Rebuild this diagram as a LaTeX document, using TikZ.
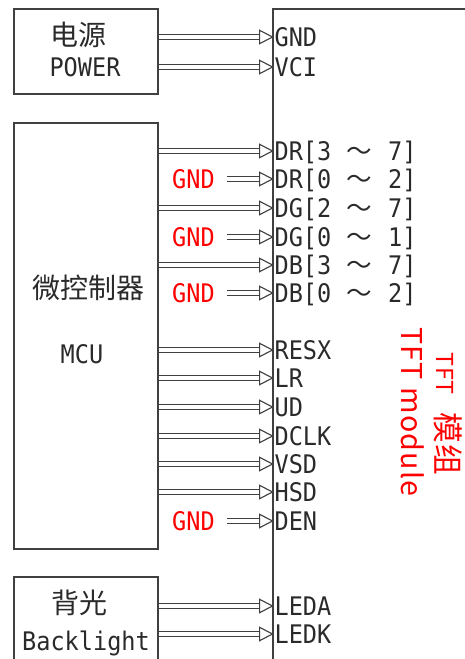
\documentclass[tikz,border=0pt]{standalone}
\usepackage{fontspec}
\setmainfont{Noto Sans CJK SC}
\newfontfamily\cellfont{DejaVu Sans Mono}[FakeStretch=0.92]
\newfontfamily\cjkfont{Noto Sans CJK SC}
\newfontfamily\redfont{Noto Sans CJK SC}[LetterSpace=4]
\definecolor{linegray}{HTML}{404040}
\definecolor{textgray}{HTML}{2a2a2a}
\newcommand{\pinsize}{\fontsize{19.2}{22}\selectfont}
\newcommand{\rng}[2]{[#1\makebox[42.6pt]{\cjkfont ～}#2]}
\tikzset{
  box/.style={draw=linegray, line width=0.8pt, minimum width=108pt, inner sep=0pt},
  pin/.style={anchor=west, inner xsep=1pt, inner ysep=0pt, text height=13.9pt, text depth=0pt, text=textgray, font=\cellfont\pinsize},
  gndsrc/.style={pin, anchor=east, text=red, inner xsep=9pt},
  boxtext/.style={inner sep=0pt, text height=13.9pt, text depth=0pt, text=textgray, font=\cellfont\pinsize},
  cjk/.style={inner sep=0pt, text=textgray, font=\cjkfont\fontsize{21}{24}\selectfont},
  modname/.style={text=red, inner sep=0pt, rotate=-90, anchor=base},
  bus/.style={draw=linegray, line width=0.85pt, double=white, double distance=3pt},
  headtri/.style={draw=linegray, fill=white, line width=0.85pt, line join=miter},
}
\begin{document}
\begin{tikzpicture}[x=0.75pt,y=-0.75pt]
\useasboundingbox (0,0) rectangle (464,659);

% Boxes
\node[box, minimum height=63.75pt] (power) at (86,51.5) {};
\node[box, minimum height=319.5pt] (mcu) at (86,336) {};
\node[box, minimum height=112.5pt] (blight) at (86,652) {};
\node[box, minimum width=225pt, minimum height=525pt] (tft) at (423,359) {};

% Box texts
\node[cjk] (powercn) at (78.5,35) {电源};
\node[boxtext] (poweren) at (85,67.5) {POWER};
\node[cjk] (mcucn) at (88,288) {微控制器};
\node[boxtext] (mcuen) at (82,354) {MCU};
\node[cjk] (blightcn) at (79,603) {背光};
\node[boxtext] (blighten) at (86,641) {Backlight};

% Module name
\node[modname] (tftcn) at (436.7,413.5) {\redfont{\fontsize{17.5}{20}\selectfont TFT}\hspace{13pt}{\fontsize{23}{26}\selectfont 模组}};
\node[modname] (tften) at (401.7,412) {\redfont\fontsize{21.5}{24}\selectfont TFT module};

% Pins
\node[pin] (gnd) at (273,37) {GND};
\node[pin] (vci) at (273,67) {VCI};
\node[pin] (drhi) at (273,151) {DR\rng{3}{7}};
\node[pin] (drlo) at (273,179) {DR\rng{0}{2}};
\node[pin] (dghi) at (273,208) {DG\rng{2}{7}};
\node[pin] (dglo) at (273,237) {DG\rng{0}{1}};
\node[pin] (dbhi) at (273,265) {DB\rng{3}{7}};
\node[pin] (dblo) at (273,293) {DB\rng{0}{2}};
\node[pin] (resx) at (273,350) {RESX};
\node[pin] (lr) at (273,378) {LR};
\node[pin] (ud) at (273,407) {UD};
\node[pin] (dclk) at (273,436) {DCLK};
\node[pin] (vsd) at (273,464) {VSD};
\node[pin] (hsd) at (273,492) {HSD};
\node[pin] (den) at (273,521) {DEN};
\node[pin] (leda) at (273,606) {LEDA};
\node[pin] (ledk) at (273,634) {LEDK};

% Tied to ground
\node[gndsrc] (gndr) at (227,179) {GND};
\node[gndsrc] (gndg) at (227,237) {GND};
\node[gndsrc] (gndb) at (227,293) {GND};
\node[gndsrc] (gnde) at (227,521) {GND};

% Hollow double arrows
\foreach \src/\dst in {power/gnd, power/vci,
    mcu/drhi, mcu/dghi, mcu/dbhi, mcu/resx, mcu/lr, mcu/ud, mcu/dclk, mcu/vsd, mcu/hsd,
    gndr/drlo, gndg/dglo, gndb/dblo, gnde/den,
    blight/leda, blight/ledk} {
  \draw[bus] (\src.east |- \dst.west) -- ([xshift=-9.5pt]\dst.west);
  \draw[headtri] ([xshift=-10pt, yshift=5pt]\dst.west) -- ([xshift=-0.4pt]\dst.west)
    -- ([xshift=-10pt, yshift=-5pt]\dst.west) -- cycle;
}
\end{tikzpicture}
\end{document}
